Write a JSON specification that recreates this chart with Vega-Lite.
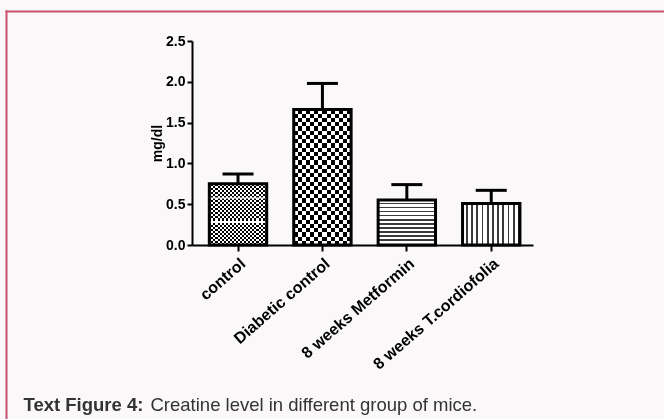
{
  "$schema": "https://vega.github.io/schema/vega-lite/v6.json",
  "width": 658,
  "height": 408,
  "autosize": {"type": "none"},
  "padding": {"left": 6, "top": 11, "right": 0, "bottom": 0},
  "background": "#faf8f9",
  "config": {
    "view": {"stroke": null, "fill": "#faf8f9"}
  },
  "data": {
    "values": [
      {"group": "control", "value": 0.75, "upper": 0.87},
      {"group": "Diabetic control", "value": 1.66, "upper": 1.98},
      {"group": "8 weeks Metformin", "value": 0.55, "upper": 0.74},
      {"group": "8 weeks T.cordiofolia", "value": 0.51, "upper": 0.67}
    ]
  },
  "resolve": {
    "scale": {"x": "independent", "y": "independent"},
    "axis": {"x": "independent", "y": "independent"}
  },
  "layer": [
    {
      "mark": {"type": "point", "opacity": 0},
      "encoding": {
        "x": {
          "datum": 0,
          "type": "quantitative",
          "scale": {"domain": [0, 1], "range": [0, 700], "nice": false},
          "axis": {
            "orient": "top", "offset": 0, "domainColor": "#c9506f", "domainWidth": 2, "domainCap": "square",
            "ticks": false, "labels": false, "grid": false,
            "title": "Text Figure 4:",
            "titleX": 17,
            "titleY": 393,
            "titleAlign": "left",
            "titleBaseline": "middle",
            "titleFont": "Liberation Sans",
            "titleFontSize": 18.5,
            "titleFontWeight": "bold",
            "titleColor": "#333333"
          }
        },
        "y": {
          "datum": 0,
          "type": "quantitative",
          "scale": {"domain": [0, 1], "range": [420, 0], "nice": false},
          "axis": {"orient": "left", "offset": 0, "domainColor": "#c9506f", "domainWidth": 2, "domainCap": "square", "ticks": false, "labels": false, "grid": false, "title": null}
        }
      }
    },
    {
      "encoding": {
        "x": {
          "field": "group",
          "type": "nominal",
          "sort": null,
          "scale": {
            "domain": ["control", "Diabetic control", "8 weeks Metformin", "8 weeks T.cordiofolia"],
            "range": [186, 527],
            "paddingInner": 0.32,
            "paddingOuter": 0.18,
            "align": 0.57
          },
          "axis": {
            "orient": "bottom",
            "offset": -174,
            "labelAngle": -41,
            "labelFont": "Liberation Sans",
            "labelFontSize": 16,
            "labelFontWeight": "bold",
            "labelColor": "#000000",
            "labelPadding": 4,
            "domainColor": "#000000",
            "domainWidth": 2,
            "tickColor": "#000000",
            "tickWidth": 2,
            "tickSize": 6,
            "title": "Creatine level in different group of mice.",
            "titleX": 144,
            "titleY": 159,
            "titleAlign": "left",
            "titleBaseline": "middle",
            "titleFont": "Liberation Sans",
            "titleFontSize": 18.5,
            "titleFontWeight": "normal",
            "titleColor": "#333333"
          }
        },
        "y": {
          "field": "value",
          "type": "quantitative",
          "title": "mg/dl",
          "scale": {"domain": [0, 2.5], "range": [234, 30], "nice": false, "zero": true},
          "axis": {
            "orient": "left",
            "offset": -186,
            "values": [0, 0.5, 1, 1.5, 2, 2.5],
            "format": ".1f",
            "grid": false,
            "labelFont": "Liberation Sans",
            "labelFontSize": 14,
            "labelFontWeight": "bold",
            "labelColor": "#000000",
            "labelPadding": 2,
            "domainColor": "#000000",
            "domainWidth": 2,
            "tickColor": "#000000",
            "tickWidth": 2,
            "tickSize": 5,
            "titleFont": "Liberation Sans",
            "titleFontSize": 14,
            "titleFontWeight": "bold",
            "titleColor": "#000000",
            "titlePadding": 1
          }
        }
      },
      "layer": [
        {
          "transform": [{"filter": "datum.group === 'control'"}],
          "mark": {
            "type": "bar",
            "fill": {
              "gradient": "linear", "x1": 0, "y1": 0, "x2": 1, "y2": 0,
              "stops": [
                {"offset": 0, "color": "#000"}, {"offset": 0.0357, "color": "#000"}, {"offset": 0.0357, "color": "#fff"}, {"offset": 0.0714, "color": "#fff"},
                {"offset": 0.0714, "color": "#000"}, {"offset": 0.1071, "color": "#000"}, {"offset": 0.1071, "color": "#fff"}, {"offset": 0.1429, "color": "#fff"},
                {"offset": 0.1429, "color": "#000"}, {"offset": 0.1786, "color": "#000"}, {"offset": 0.1786, "color": "#fff"}, {"offset": 0.2143, "color": "#fff"},
                {"offset": 0.2143, "color": "#000"}, {"offset": 0.25, "color": "#000"}, {"offset": 0.25, "color": "#fff"}, {"offset": 0.2857, "color": "#fff"},
                {"offset": 0.2857, "color": "#000"}, {"offset": 0.3214, "color": "#000"}, {"offset": 0.3214, "color": "#fff"}, {"offset": 0.3571, "color": "#fff"},
                {"offset": 0.3571, "color": "#000"}, {"offset": 0.3929, "color": "#000"}, {"offset": 0.3929, "color": "#fff"}, {"offset": 0.4286, "color": "#fff"},
                {"offset": 0.4286, "color": "#000"}, {"offset": 0.4643, "color": "#000"}, {"offset": 0.4643, "color": "#fff"}, {"offset": 0.5, "color": "#fff"},
                {"offset": 0.5, "color": "#000"}, {"offset": 0.5357, "color": "#000"}, {"offset": 0.5357, "color": "#fff"}, {"offset": 0.5714, "color": "#fff"},
                {"offset": 0.5714, "color": "#000"}, {"offset": 0.6071, "color": "#000"}, {"offset": 0.6071, "color": "#fff"}, {"offset": 0.6429, "color": "#fff"},
                {"offset": 0.6429, "color": "#000"}, {"offset": 0.6786, "color": "#000"}, {"offset": 0.6786, "color": "#fff"}, {"offset": 0.7143, "color": "#fff"},
                {"offset": 0.7143, "color": "#000"}, {"offset": 0.75, "color": "#000"}, {"offset": 0.75, "color": "#fff"}, {"offset": 0.7857, "color": "#fff"},
                {"offset": 0.7857, "color": "#000"}, {"offset": 0.8214, "color": "#000"}, {"offset": 0.8214, "color": "#fff"}, {"offset": 0.8571, "color": "#fff"},
                {"offset": 0.8571, "color": "#000"}, {"offset": 0.8929, "color": "#000"}, {"offset": 0.8929, "color": "#fff"}, {"offset": 0.9286, "color": "#fff"},
                {"offset": 0.9286, "color": "#000"}, {"offset": 0.9643, "color": "#000"}, {"offset": 0.9643, "color": "#fff"}, {"offset": 1, "color": "#fff"}
              ]
            }
          }
        },
        {
          "transform": [{"filter": "datum.group === 'control'"}],
          "mark": {
            "type": "bar",
            "blend": "difference",
            "fill": {
              "gradient": "linear", "x1": 0, "y1": 0, "x2": 0, "y2": 1,
              "stops": [
                {"offset": 0, "color": "#fff"}, {"offset": 0.0333, "color": "#fff"}, {"offset": 0.0333, "color": "#000"}, {"offset": 0.0667, "color": "#000"},
                {"offset": 0.0667, "color": "#fff"}, {"offset": 0.1, "color": "#fff"}, {"offset": 0.1, "color": "#000"}, {"offset": 0.1333, "color": "#000"},
                {"offset": 0.1333, "color": "#fff"}, {"offset": 0.1667, "color": "#fff"}, {"offset": 0.1667, "color": "#000"}, {"offset": 0.2, "color": "#000"},
                {"offset": 0.2, "color": "#fff"}, {"offset": 0.2333, "color": "#fff"}, {"offset": 0.2333, "color": "#000"}, {"offset": 0.2667, "color": "#000"},
                {"offset": 0.2667, "color": "#fff"}, {"offset": 0.3, "color": "#fff"}, {"offset": 0.3, "color": "#000"}, {"offset": 0.3333, "color": "#000"},
                {"offset": 0.3333, "color": "#fff"}, {"offset": 0.3667, "color": "#fff"}, {"offset": 0.3667, "color": "#000"}, {"offset": 0.4, "color": "#000"},
                {"offset": 0.4, "color": "#fff"}, {"offset": 0.4333, "color": "#fff"}, {"offset": 0.4333, "color": "#000"}, {"offset": 0.4667, "color": "#000"},
                {"offset": 0.4667, "color": "#fff"}, {"offset": 0.5, "color": "#fff"}, {"offset": 0.5, "color": "#000"}, {"offset": 0.5333, "color": "#000"},
                {"offset": 0.5333, "color": "#fff"}, {"offset": 0.5667, "color": "#fff"}, {"offset": 0.5667, "color": "#000"}, {"offset": 0.6, "color": "#000"},
                {"offset": 0.6, "color": "#fff"}, {"offset": 0.6333, "color": "#fff"}, {"offset": 0.6333, "color": "#000"}, {"offset": 0.6667, "color": "#000"},
                {"offset": 0.6667, "color": "#fff"}, {"offset": 0.7, "color": "#fff"}, {"offset": 0.7, "color": "#000"}, {"offset": 0.7333, "color": "#000"},
                {"offset": 0.7333, "color": "#fff"}, {"offset": 0.7667, "color": "#fff"}, {"offset": 0.7667, "color": "#000"}, {"offset": 0.8, "color": "#000"},
                {"offset": 0.8, "color": "#fff"}, {"offset": 0.8333, "color": "#fff"}, {"offset": 0.8333, "color": "#000"}, {"offset": 0.8667, "color": "#000"},
                {"offset": 0.8667, "color": "#fff"}, {"offset": 0.9, "color": "#fff"}, {"offset": 0.9, "color": "#000"}, {"offset": 0.9333, "color": "#000"},
                {"offset": 0.9333, "color": "#fff"}, {"offset": 0.9667, "color": "#fff"}, {"offset": 0.9667, "color": "#000"}, {"offset": 1, "color": "#000"}
              ]
            }
          }
        },
        {
          "transform": [{"filter": "datum.group === 'control'"}],
          "mark": {
            "type": "bar",
            "fill": {
              "gradient": "linear", "x1": 0, "y1": 0, "x2": 0, "y2": 1,
              "stops": [
                {"offset": 0, "color": "rgba(255,255,255,0)"}, {"offset": 0.21, "color": "rgba(255,255,255,0)"},
                {"offset": 0.21, "color": "rgba(255,255,255,0.55)"}, {"offset": 0.25, "color": "rgba(255,255,255,0.55)"},
                {"offset": 0.25, "color": "rgba(255,255,255,0)"}, {"offset": 0.6, "color": "rgba(255,255,255,0)"},
                {"offset": 0.6, "color": "rgba(255,255,255,1)"}, {"offset": 0.645, "color": "rgba(255,255,255,1)"},
                {"offset": 0.645, "color": "rgba(255,255,255,0)"}, {"offset": 1, "color": "rgba(255,255,255,0)"}
              ]
            }
          }
        },
        {
          "transform": [{"filter": "datum.group === 'Diabetic control'"}],
          "mark": {
            "type": "bar",
            "fill": {
              "gradient": "linear", "x1": 0, "y1": 0, "x2": 1, "y2": 0,
              "stops": [
                {"offset": 0, "color": "#000"}, {"offset": 0.0714, "color": "#000"}, {"offset": 0.0714, "color": "#fff"}, {"offset": 0.1429, "color": "#fff"},
                {"offset": 0.1429, "color": "#000"}, {"offset": 0.2143, "color": "#000"}, {"offset": 0.2143, "color": "#fff"}, {"offset": 0.2857, "color": "#fff"},
                {"offset": 0.2857, "color": "#000"}, {"offset": 0.3571, "color": "#000"}, {"offset": 0.3571, "color": "#fff"}, {"offset": 0.4286, "color": "#fff"},
                {"offset": 0.4286, "color": "#000"}, {"offset": 0.5, "color": "#000"}, {"offset": 0.5, "color": "#fff"}, {"offset": 0.5714, "color": "#fff"},
                {"offset": 0.5714, "color": "#000"}, {"offset": 0.6429, "color": "#000"}, {"offset": 0.6429, "color": "#fff"}, {"offset": 0.7143, "color": "#fff"},
                {"offset": 0.7143, "color": "#000"}, {"offset": 0.7857, "color": "#000"}, {"offset": 0.7857, "color": "#fff"}, {"offset": 0.8571, "color": "#fff"},
                {"offset": 0.8571, "color": "#000"}, {"offset": 0.9286, "color": "#000"}, {"offset": 0.9286, "color": "#fff"}, {"offset": 1, "color": "#fff"}
              ]
            }
          }
        },
        {
          "transform": [{"filter": "datum.group === 'Diabetic control'"}],
          "mark": {
            "type": "bar",
            "blend": "difference",
            "fill": {
              "gradient": "linear", "x1": 0, "y1": 0, "x2": 0, "y2": 1,
              "stops": [
                {"offset": 0, "color": "#fff"}, {"offset": 0.03125, "color": "#fff"}, {"offset": 0.03125, "color": "#000"}, {"offset": 0.0625, "color": "#000"},
                {"offset": 0.0625, "color": "#fff"}, {"offset": 0.09375, "color": "#fff"}, {"offset": 0.09375, "color": "#000"}, {"offset": 0.125, "color": "#000"},
                {"offset": 0.125, "color": "#fff"}, {"offset": 0.15625, "color": "#fff"}, {"offset": 0.15625, "color": "#000"}, {"offset": 0.1875, "color": "#000"},
                {"offset": 0.1875, "color": "#fff"}, {"offset": 0.21875, "color": "#fff"}, {"offset": 0.21875, "color": "#000"}, {"offset": 0.25, "color": "#000"},
                {"offset": 0.25, "color": "#fff"}, {"offset": 0.28125, "color": "#fff"}, {"offset": 0.28125, "color": "#000"}, {"offset": 0.3125, "color": "#000"},
                {"offset": 0.3125, "color": "#fff"}, {"offset": 0.34375, "color": "#fff"}, {"offset": 0.34375, "color": "#000"}, {"offset": 0.375, "color": "#000"},
                {"offset": 0.375, "color": "#fff"}, {"offset": 0.40625, "color": "#fff"}, {"offset": 0.40625, "color": "#000"}, {"offset": 0.4375, "color": "#000"},
                {"offset": 0.4375, "color": "#fff"}, {"offset": 0.46875, "color": "#fff"}, {"offset": 0.46875, "color": "#000"}, {"offset": 0.5, "color": "#000"},
                {"offset": 0.5, "color": "#fff"}, {"offset": 0.53125, "color": "#fff"}, {"offset": 0.53125, "color": "#000"}, {"offset": 0.5625, "color": "#000"},
                {"offset": 0.5625, "color": "#fff"}, {"offset": 0.59375, "color": "#fff"}, {"offset": 0.59375, "color": "#000"}, {"offset": 0.625, "color": "#000"},
                {"offset": 0.625, "color": "#fff"}, {"offset": 0.65625, "color": "#fff"}, {"offset": 0.65625, "color": "#000"}, {"offset": 0.6875, "color": "#000"},
                {"offset": 0.6875, "color": "#fff"}, {"offset": 0.71875, "color": "#fff"}, {"offset": 0.71875, "color": "#000"}, {"offset": 0.75, "color": "#000"},
                {"offset": 0.75, "color": "#fff"}, {"offset": 0.78125, "color": "#fff"}, {"offset": 0.78125, "color": "#000"}, {"offset": 0.8125, "color": "#000"},
                {"offset": 0.8125, "color": "#fff"}, {"offset": 0.84375, "color": "#fff"}, {"offset": 0.84375, "color": "#000"}, {"offset": 0.875, "color": "#000"},
                {"offset": 0.875, "color": "#fff"}, {"offset": 0.90625, "color": "#fff"}, {"offset": 0.90625, "color": "#000"}, {"offset": 0.9375, "color": "#000"},
                {"offset": 0.9375, "color": "#fff"}, {"offset": 0.96875, "color": "#fff"}, {"offset": 0.96875, "color": "#000"}, {"offset": 1, "color": "#000"}
              ]
            }
          }
        },
        {
          "transform": [{"filter": "datum.group === '8 weeks Metformin'"}],
          "mark": {
            "type": "bar",
            "fill": {
              "gradient": "linear", "x1": 0, "y1": 0, "x2": 0, "y2": 1,
              "stops": [
                {"offset": 0, "color": "#fff"}, {"offset": 0.0591, "color": "#fff"}, {"offset": 0.0591, "color": "#3a3a3a"}, {"offset": 0.0909, "color": "#3a3a3a"},
                {"offset": 0.0909, "color": "#fff"}, {"offset": 0.15, "color": "#fff"}, {"offset": 0.15, "color": "#3a3a3a"}, {"offset": 0.1818, "color": "#3a3a3a"},
                {"offset": 0.1818, "color": "#fff"}, {"offset": 0.2409, "color": "#fff"}, {"offset": 0.2409, "color": "#3a3a3a"}, {"offset": 0.2727, "color": "#3a3a3a"},
                {"offset": 0.2727, "color": "#fff"}, {"offset": 0.3318, "color": "#fff"}, {"offset": 0.3318, "color": "#3a3a3a"}, {"offset": 0.3636, "color": "#3a3a3a"},
                {"offset": 0.3636, "color": "#fff"}, {"offset": 0.4227, "color": "#fff"}, {"offset": 0.4227, "color": "#3a3a3a"}, {"offset": 0.4545, "color": "#3a3a3a"},
                {"offset": 0.4545, "color": "#fff"}, {"offset": 0.5136, "color": "#fff"}, {"offset": 0.5136, "color": "#3a3a3a"}, {"offset": 0.5455, "color": "#3a3a3a"},
                {"offset": 0.5455, "color": "#fff"}, {"offset": 0.6045, "color": "#fff"}, {"offset": 0.6045, "color": "#3a3a3a"}, {"offset": 0.6364, "color": "#3a3a3a"},
                {"offset": 0.6364, "color": "#fff"}, {"offset": 0.6955, "color": "#fff"}, {"offset": 0.6955, "color": "#3a3a3a"}, {"offset": 0.7273, "color": "#3a3a3a"},
                {"offset": 0.7273, "color": "#fff"}, {"offset": 0.7864, "color": "#fff"}, {"offset": 0.7864, "color": "#3a3a3a"}, {"offset": 0.8182, "color": "#3a3a3a"},
                {"offset": 0.8182, "color": "#fff"}, {"offset": 0.8773, "color": "#fff"}, {"offset": 0.8773, "color": "#3a3a3a"}, {"offset": 0.9091, "color": "#3a3a3a"},
                {"offset": 0.9091, "color": "#fff"}, {"offset": 0.9682, "color": "#fff"}, {"offset": 0.9682, "color": "#3a3a3a"}, {"offset": 1, "color": "#3a3a3a"}
              ]
            }
          }
        },
        {
          "transform": [{"filter": "datum.group === '8 weeks T.cordiofolia'"}],
          "mark": {
            "type": "bar",
            "fill": {
              "gradient": "linear", "x1": 0, "y1": 0, "x2": 1, "y2": 0,
              "stops": [
                {"offset": 0, "color": "#fff"}, {"offset": 0.0591, "color": "#fff"}, {"offset": 0.0591, "color": "#3a3a3a"}, {"offset": 0.0909, "color": "#3a3a3a"},
                {"offset": 0.0909, "color": "#fff"}, {"offset": 0.15, "color": "#fff"}, {"offset": 0.15, "color": "#3a3a3a"}, {"offset": 0.1818, "color": "#3a3a3a"},
                {"offset": 0.1818, "color": "#fff"}, {"offset": 0.2409, "color": "#fff"}, {"offset": 0.2409, "color": "#3a3a3a"}, {"offset": 0.2727, "color": "#3a3a3a"},
                {"offset": 0.2727, "color": "#fff"}, {"offset": 0.3318, "color": "#fff"}, {"offset": 0.3318, "color": "#3a3a3a"}, {"offset": 0.3636, "color": "#3a3a3a"},
                {"offset": 0.3636, "color": "#fff"}, {"offset": 0.4227, "color": "#fff"}, {"offset": 0.4227, "color": "#3a3a3a"}, {"offset": 0.4545, "color": "#3a3a3a"},
                {"offset": 0.4545, "color": "#fff"}, {"offset": 0.5136, "color": "#fff"}, {"offset": 0.5136, "color": "#3a3a3a"}, {"offset": 0.5455, "color": "#3a3a3a"},
                {"offset": 0.5455, "color": "#fff"}, {"offset": 0.6045, "color": "#fff"}, {"offset": 0.6045, "color": "#3a3a3a"}, {"offset": 0.6364, "color": "#3a3a3a"},
                {"offset": 0.6364, "color": "#fff"}, {"offset": 0.6955, "color": "#fff"}, {"offset": 0.6955, "color": "#3a3a3a"}, {"offset": 0.7273, "color": "#3a3a3a"},
                {"offset": 0.7273, "color": "#fff"}, {"offset": 0.7864, "color": "#fff"}, {"offset": 0.7864, "color": "#3a3a3a"}, {"offset": 0.8182, "color": "#3a3a3a"},
                {"offset": 0.8182, "color": "#fff"}, {"offset": 0.8773, "color": "#fff"}, {"offset": 0.8773, "color": "#3a3a3a"}, {"offset": 0.9091, "color": "#3a3a3a"},
                {"offset": 0.9091, "color": "#fff"}, {"offset": 0.9682, "color": "#fff"}, {"offset": 0.9682, "color": "#3a3a3a"}, {"offset": 1, "color": "#3a3a3a"}
              ]
            }
          }
        },
        {
          "mark": {"type": "bar", "fillOpacity": 0, "stroke": "#000000", "strokeWidth": 3, "strokeJoin": "miter"}
        },
        {
          "mark": {"type": "rule", "color": "#000000", "strokeWidth": 3},
          "encoding": {
            "y": {"field": "upper", "type": "quantitative", "title": "mg/dl"},
            "y2": {"field": "value"}
          }
        },
        {
          "mark": {"type": "tick", "color": "#000000", "size": 31, "thickness": 3, "opacity": 1},
          "encoding": {
            "y": {"field": "upper", "type": "quantitative", "title": "mg/dl"}
          }
        }
      ]
    }
  ]
}
